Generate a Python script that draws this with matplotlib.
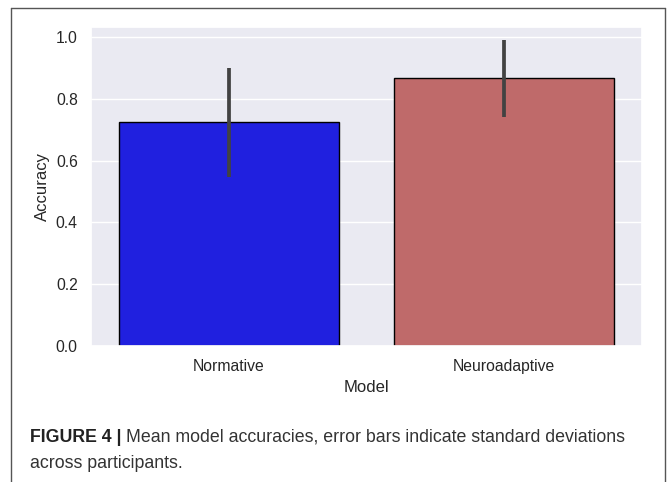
import matplotlib
matplotlib.use("Agg")
import matplotlib.pyplot as plt
import seaborn as sns
from matplotlib.lines import Line2D

# Data
models = ["Normative", "Neuroadaptive"]
mean_acc = [0.725, 0.867]
sd_acc = [0.177, 0.124]
bar_colors = ["#2020DF", "#BF6A6A"]

sns.set_theme(style="darkgrid")
plt.rcParams["font.family"] = ["Liberation Sans", "DejaVu Sans"]

fig = plt.figure(figsize=(6.72, 4.82), dpi=100)
ax = fig.add_axes([0.1354, 0.2826, 0.82, 0.662])

x = list(range(len(models)))
ax.bar(x, mean_acc, width=0.8, color=bar_colors, edgecolor="black", linewidth=1.0, zorder=2)
for xi, m, s in zip(x, mean_acc, sd_acc):
    ax.plot([xi, xi], [m - s, m + s], color="#424242", linewidth=2.7, solid_capstyle="butt", zorder=3)

ax.set_xlim(-0.5, 1.5)
ax.set_ylim(0, 1.035)
ax.set_yticks([0.0, 0.2, 0.4, 0.6, 0.8, 1.0])
ax.set_xticks(x)
ax.set_xticklabels(models)
ax.grid(axis="x", visible=False)
ax.tick_params(labelsize=11.3, colors="#262626")
ax.set_xlabel("Model", fontsize=12)
ax.set_ylabel("Accuracy", fontsize=12)

# caption
y1 = 1 - 437 / 482
y2 = 1 - 463 / 482
t1 = fig.text(30 / 672, y1, "FIGURE 4 |", fontsize=12.8, fontweight="bold", va="center",
              color="#222222")
fig.canvas.draw()
bb = t1.get_window_extent()
fig.text((bb.x1 + 5) / 672, y1, "Mean model accuracies, error bars indicate standard deviations",
         fontsize=12.8, va="center", color="#333333")
fig.text(30 / 672, y2, "across participants.", fontsize=12.8, va="center", color="#333333")

# frame around the figure panel
fc = "#555555"
l, r, t = 11 / 672, 665 / 672, 1 - 8 / 482
fig.add_artist(Line2D([l, l], [0, t], color=fc, linewidth=1.0, transform=fig.transFigure))
fig.add_artist(Line2D([l, r], [t, t], color=fc, linewidth=1.0, transform=fig.transFigure))
fig.add_artist(Line2D([r, r], [0, t], color=fc, linewidth=1.0, transform=fig.transFigure))

fig.savefig("out.png", dpi=100)
